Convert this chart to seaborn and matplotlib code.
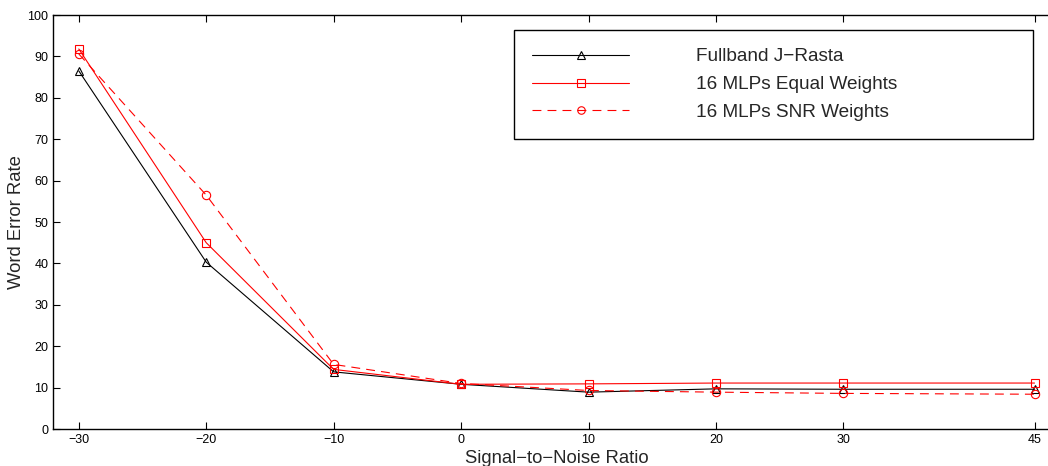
import seaborn as sns
import matplotlib
matplotlib.use("Agg")
import matplotlib.pyplot as plt
import pandas as pd

# values
snr = [-30, -20, -10, 0, 10, 20, 30, 45]
fullband = [86.5, 40.3, 13.8, 10.8, 8.9, 9.7, 9.6, 9.6]
mlp_equal = [91.8, 45.0, 14.4, 10.8, 10.9, 11.1, 11.1, 11.1]
mlp_snr = [90.6, 56.5, 15.6, 11.0, 9.3, 8.9, 8.6, 8.4]
labels = ["Fullband J\u2212Rasta", "16 MLPs Equal Weights", "16 MLPs SNR Weights"]

sns.set_style("ticks", {"xtick.direction": "in", "ytick.direction": "in"})
plt.rcParams['font.family'] = ['Liberation Sans', 'DejaVu Sans']

fig = plt.figure(figsize=(10.48, 4.66), dpi=100)
# axes run a bit past the right edge of the picture (cropped like the reference)
ax = fig.add_axes([53.3 / 1048, 37 / 466, 1006.7 / 1048, 414 / 466])

series = [
    (fullband, labels[0], "black", "^", "-"),
    (mlp_equal, labels[1], "red", "s", "-"),
    (mlp_snr, labels[2], "red", "o", (0, (8, 5.5))),
]
for vals, lab, col, mk, ls in series:
    df = pd.DataFrame({"SNR": snr, "WER": vals})
    sns.lineplot(x="SNR", y="WER", data=df, ax=ax, color=col, marker=mk,
                 linestyle=ls, linewidth=0.8, markersize=6, mfc="none",
                 mec=col, mew=0.8, label=lab)

ax.set_xlim(-32, 47)
ax.set_ylim(0, 100)
ax.set_xticks(snr)
ax.set_yticks(range(0, 101, 10))
ax.tick_params(axis="both", which="both", direction="in", length=5, width=0.8,
               labelsize=9, top=True, right=True, colors="black")
for s in ax.spines.values():
    s.set_linewidth(1.0)
    s.set_color("black")
    s.set_visible(True)

ax.set_xlabel("Signal\u2212to\u2212Noise Ratio", fontsize=13.3, labelpad=3)
ax.set_ylabel("Word Error Rate", fontsize=13.3, labelpad=2)

leg = ax.legend(loc="upper left", bbox_to_anchor=(0.458, 0.9638, 0.515, 0),
                mode="expand", borderaxespad=0, fontsize=13.7, frameon=True,
                fancybox=False, edgecolor="black", framealpha=1,
                borderpad=0.95, labelspacing=0.55, handlelength=5.1,
                handletextpad=3.5, numpoints=1, markerscale=0.9)
leg.get_frame().set_linewidth(1.0)

fig.savefig("out.png", dpi=100)
